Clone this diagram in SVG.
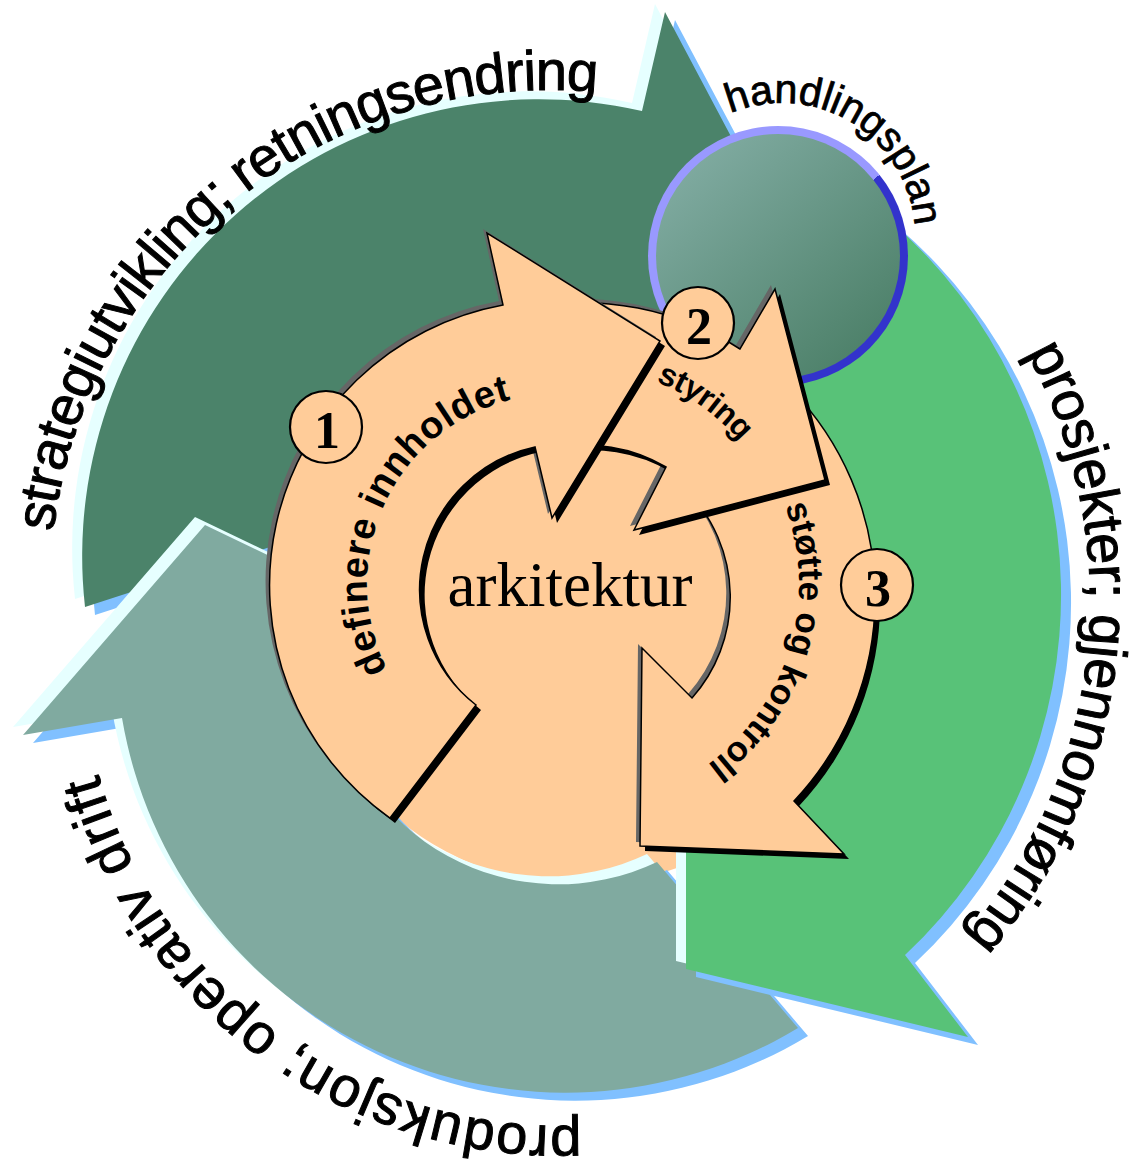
<svg xmlns="http://www.w3.org/2000/svg" width="1142" height="1159" viewBox="0 0 1142 1159">
  <defs>
    <style>
      .hi { fill: #E6FFFF; }
      .lo { fill: #80C0FF; }
      .peach { fill: #FFCC99; stroke: #000; stroke-width: 1.5; stroke-linejoin: miter; }
      .shade { fill: #666666; }
      .dark { fill: #000000; }
      .num { fill: #FFCC99; stroke: #000; stroke-width: 2.2; }
      .digit { font-family: "Liberation Serif", "Times New Roman", serif; font-weight: bold; font-size: 52px; text-anchor: middle; fill: #000; }
      .big { font-family: "Liberation Sans", Arial, sans-serif; font-size: 56px; fill: #000; stroke: #000; stroke-width: 1; }
      .lab { font-family: "Liberation Sans", Arial, sans-serif; font-weight: bold; fill: #000; }
    </style>

    <!-- outer cycle arrows -->
    <path id="shStrategi" d="M 85,607 A 457,457 0 0 1 642,111 L 665,12 L 815,295 L 700,360 L 591,327 A 235,235 0 0 0 304,536 Z"/>
    <path id="shProduksjon" d="M 657,862 L 798,1028 A 450,450 0 0 1 122,718 L 23,735 L 205,525 L 330,585 L 330,683 A 230,230 0 0 0 657,862 Z"/>
    <path id="shProsjekter" d="M 889,220 A 494,494 0 0 1 905,955 L 968,1037 L 686,969 L 686,760 L 760,810 A 278,278 0 0 0 760,378 Z"/>

    <!-- inner architecture arrows -->
    <path id="shDefinere" d="M 476,705 L 390,818 A 285,285 0 0 1 503,305 L 487,233 L 660,341 L 552,518 L 535,447 A 146,146 0 0 0 476,705 Z"/>
    <path id="shStyring" d="M 528,307 A 298,298 0 0 1 740,349 L 775,289 L 825,480 L 634,530 L 666,467 A 155,155 0 0 0 553,449 Z"/>
    <path id="shStotte" d="M 688,492 L 791,389 A 298,298 0 0 1 794,801 L 844,854 L 640,846 L 642,648 L 692,698 A 152,152 0 0 0 688,492 Z"/>

    <!-- baselines for curved labels -->
    <path id="pStrategi" d="M 53.4,531.7 A 500,500 0 0 1 636.8,97.6"/>
    <path id="pHandling" d="M 730.2,113.5 A 133,133 0 0 1 913.0,259.1"/>
    <path id="pProsjekt" d="M 1026.7,352.7 A 515,515 0 0 1 906.0,994.5"/>
    <path id="pProduk" d="M 581.1,1125.6 A 480,480 0 0 1 82.8,687.8"/>
    <path id="pDefinere" d="M 387.6,670.0 A 190,190 0 0 1 540.4,394.7"/>
    <path id="pStyring" d="M 656.0,381.6 A 218,218 0 0 1 763.8,475.0"/>
    <path id="pStotte" d="M 785.0,505.9 A 224,224 0 0 1 673.2,785.3"/>

    <linearGradient id="rim" x1="0.1" y1="0" x2="0.9" y2="1">
      <stop offset="0.5" stop-color="#9999FF"/>
      <stop offset="0.5" stop-color="#3333CC"/>
    </linearGradient>
    <linearGradient id="orb" x1="0.15" y1="0.1" x2="0.9" y2="0.95">
      <stop offset="0" stop-color="#7FAAA0"/>
      <stop offset="1" stop-color="#4A7E66"/>
    </linearGradient>
    <clipPath id="lowerHalf">
      <rect x="0" y="600" width="1142" height="559"/>
    </clipPath>
  </defs>

  <rect width="1142" height="1159" fill="#FFFFFF"/>

  <!-- peach base disc behind everything -->
  <circle id="core-disc" cx="580" cy="600" r="285" fill="#FFCC99"/>

  <g id="strategiutvikling">
    <use href="#shStrategi" class="lo" transform="translate(10,8)"/>
    <use href="#shStrategi" class="hi" transform="translate(-10,-8)"/>
    <use href="#shStrategi" fill="#4B836A"/>
  </g>

  <g id="produksjon">
    <use href="#shProduksjon" class="lo" transform="translate(10,8)"/>
    <use href="#shProduksjon" class="hi" transform="translate(-10,-8)"/>
    <use href="#shProduksjon" fill="#80AAA0"/>
  </g>

  <g id="prosjekter">
    <use href="#shProsjekter" class="lo" transform="translate(10,8)"/>
    <use href="#shProsjekter" class="hi" transform="translate(-10,-8)"/>
    <use href="#shProsjekter" fill="#58C278"/>
  </g>

  <g id="handlingsplan">
    <circle cx="778" cy="256" r="130" fill="url(#rim)"/>
    <circle cx="778" cy="256" r="122" fill="url(#orb)"/>
  </g>

  <g id="stotte-og-kontroll">
    <use href="#shStotte" class="shade" transform="translate(-4,-4)"/>
    <use href="#shStotte" class="dark" transform="translate(5,5)" clip-path="url(#lowerHalf)"/>
    <use href="#shStotte" class="peach"/>
  </g>

  <g id="styring">
    <use href="#shStyring" class="shade" transform="translate(-4,-4)"/>
    <use href="#shStyring" class="dark" transform="translate(5,5)"/>
    <use href="#shStyring" class="peach"/>
  </g>

  <g id="definere-innholdet">
    <use href="#shDefinere" class="shade" transform="translate(-4,-4)"/>
    <use href="#shDefinere" class="dark" transform="translate(5,5)"/>
    <use href="#shDefinere" class="peach"/>
  </g>

  <g id="step-1">
    <circle class="num" cx="326" cy="427" r="36"/>
    <text class="digit" x="327" y="448">1</text>
  </g>
  <g id="step-2">
    <circle class="num" cx="698" cy="323" r="36"/>
    <text class="digit" x="699" y="344">2</text>
  </g>
  <g id="step-3">
    <circle class="num" cx="877" cy="585" r="36"/>
    <text class="digit" x="878" y="606">3</text>
  </g>

  <g id="arkitektur">
    <text x="570" y="606" font-family="'Liberation Serif', 'Times New Roman', serif" font-size="63" text-anchor="middle" fill="#000">arkitektur</text>
  </g>

  <g id="labels">
    <text class="big"><textPath href="#pStrategi" textLength="774" lengthAdjust="spacing">strategiutvikling; retningsendring</textPath></text>
    <text class="big" style="font-size:41px;stroke-width:0.8"><textPath href="#pHandling" textLength="252" lengthAdjust="spacing">handlingsplan</textPath></text>
    <text class="big"><textPath href="#pProsjekt" textLength="624" lengthAdjust="spacing">prosjekter; gjennomføring</textPath></text>
    <text class="big"><textPath href="#pProduk" textLength="644" lengthAdjust="spacing">produksjon; operativ drift</textPath></text>
    <text class="lab" style="font-size:38px"><textPath href="#pDefinere" textLength="341" lengthAdjust="spacing">definere innholdet</textPath></text>
    <text class="lab" style="font-size:32px"><textPath href="#pStyring" textLength="104" lengthAdjust="spacing">styring</textPath></text>
    <text class="lab" style="font-size:35px"><textPath href="#pStotte" textLength="290" lengthAdjust="spacing">støtte og kontroll</textPath></text>
  </g>
</svg>
